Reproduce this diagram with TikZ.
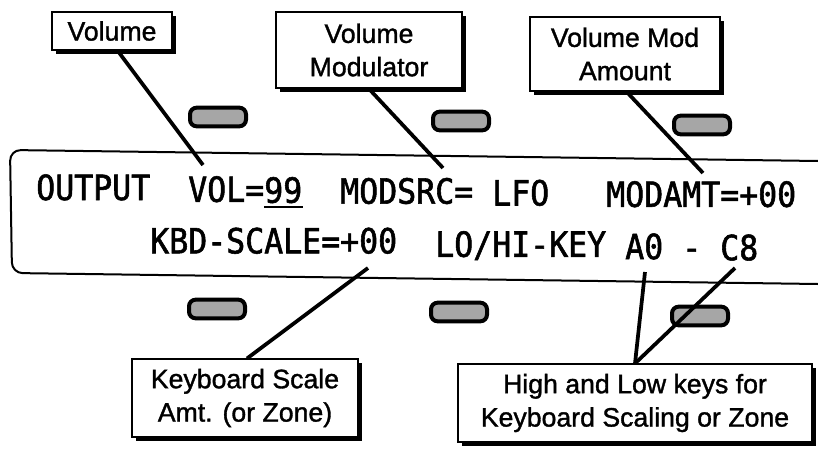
\documentclass[tikz,border=0pt]{standalone}
\usepackage{fontspec}
\setmainfont{Liberation Sans}
\newfontfamily\tagfont[FakeBold=1.3]{Liberation Sans}
\newfontfamily\lcdfont[FakeStretch=0.91,FakeBold=1.6]{DejaVu Sans Mono}
\usetikzlibrary{shadows}

\tikzset{
  tag/.style={draw, line width=1.3pt, fill=white, align=center, inner sep=0pt,
    font=\tagfont\fontsize{20}{25}\selectfont,
    drop shadow={shadow xshift=3pt, shadow yshift=-3pt, opacity=1, fill=black}},
  lcd/.style={anchor=base west, inner sep=0pt, font=\lcdfont\fontsize{26}{30}\selectfont},
  button/.style={draw, line width=3pt, rounded corners=5pt, fill=gray!70,
    minimum width=42pt, minimum height=14pt},
  lead/.style={line width=2.8pt},
}

\begin{document}
\begin{tikzpicture}[x=0.75pt,y=-0.75pt]
  \useasboundingbox (0,0) rectangle (818,450);
  \def\pitch{19}

  % display window
  \draw[line width=1.5pt, rounded corners=8pt] (818,161) -- (10,150) -- (12,273) -- (818,284);

  \foreach \c/\t/\n in {0/OUTPUT/out, 8/VOL=/vol, 12/99/vollevel, 16/MODSRC=/modsrc, 24/LFO/lfo, 30/MODAMT=+00/modamt}
    \node[lcd] (\n) at ({36+\pitch*\c},{200+0.012*\pitch*\c}) {\t};
  \draw[line width=1.6pt] ([yshift=-3.5pt]vollevel.base west) -- ([yshift=-3.5pt]vollevel.base east);

  \foreach \c/\t/\n in {6/KBD-SCALE=+00/kbd, 21/{LO/HI-KEY}/lohi, 31/A0/lokey, 34/-/dash, 36/C8/hikey}
    \node[lcd] (\n) at ({36+\pitch*\c},{252+0.012*\pitch*\c}) {\t};

  % soft buttons
  \foreach \x/\y/\n in {218/117/btna, 461/121/btnb, 702/125/btnc, 217/309/btnd, 459/312/btne, 700/316/btnf}
    \node[button] (\n) at (\x,\y) {};

  % callouts
  \node[tag, minimum width=90pt, minimum height=29pt] (volbox) at (112,31) {Volume};
  \node[tag, minimum width=139pt, minimum height=57pt] (modsrcbox) at (369,50) {Volume\\Modulator};
  \node[tag, minimum width=142pt, minimum height=56pt] (modamtbox) at (625,54) {Volume Mod\\Amount};
  \node[tag, minimum width=170pt, minimum height=58pt] (kbdbox) at (245,398) {Keyboard Scale\\Amt. (or Zone)};
  \node[tag, minimum width=265pt, minimum height=58pt] (keysbox) at (635,403) {High and Low keys for\\Keyboard Scaling or Zone};

  \coordinate (volpt) at (203,165);
  \coordinate (modsrcpt) at (443,168);
  \coordinate (modamtpt) at (703,173);
  \coordinate (kbdpt) at (368,268);
  \coordinate (lopt) at (645,272);
  \coordinate (hipt) at (735,268);

  \draw[lead] ([xshift=4.5pt]volbox.south) -- (volpt);
  \draw[lead] (modsrcbox.south) -- (modsrcpt);
  \draw[lead] ([xshift=1.5pt]modamtbox.south) -- (modamtpt);
  \draw[lead] (kbdpt) -- ([xshift=1.5pt]kbdbox.north);
  \draw[lead] (lopt) -- (keysbox.north);
  \draw[lead] (hipt) -- (keysbox.north);
\end{tikzpicture}
\end{document}
